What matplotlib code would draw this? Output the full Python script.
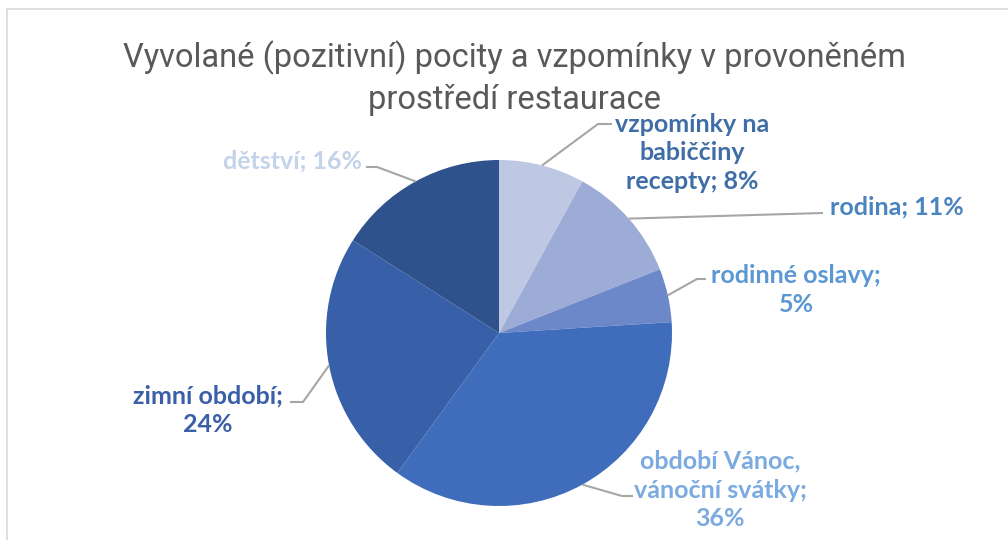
import numpy as np
import matplotlib
matplotlib.use("Agg")
import matplotlib.pyplot as plt

# Data
labels = ["vzpomínky na\nbabiččiny\nrecepty", "rodina", "rodinné oslavy;\n", "období Vánoc,\nvánoční svátky;\n",
          "zimní období;\n", "dětství"]
values = [8, 11, 5, 36, 24, 16]
wedge_colors = ["#BFC8E2", "#9DACD7", "#6D88C9", "#3F6DBB", "#3860A8", "#2F528C"]
label_colors = ["#3F6EA6", "#4A84BE", "#5B97D2", "#7AAADF", "#3A5FA8", "#C3D3EA"]
title = "Vyvolané (pozitivní) pocity a vzpomínky v provoněném\nprostředí restaurace"

W, H = 1008, 540
fig = plt.figure(figsize=(W / 100, H / 100), dpi=100)
ax = fig.add_axes([0, 0, 1, 1])

cx, cy, r = 499, H - 333, 173
wedges, _ = ax.pie(values, colors=wedge_colors, startangle=90, counterclock=False,
                   center=(cx, cy), radius=r, frame=True)
ax.set_xlim(0, W)
ax.set_ylim(0, H)
ax.axis("off")

# frame lines (top / left)
ax.plot([7, W], [H - 9, H - 9], color="#D9D9D9", lw=1.2)
ax.plot([7, 7], [0, H - 9], color="#D9D9D9", lw=1.2)

# label layout: text anchor, elbow point, end of horizontal, alignment (pixel coords from top)
layout = [
    ((692, 153), (598, 124), (612, 124), "center"),
    ((830, 207), (823, 213), (823, 213), "left"),
    ((796, 290), (697, 279), (706, 279), "center"),
    ((720, 490), (622, 496), (633, 496), "center"),
    ((208, 410), (303, 402), (290, 402), "center"),
    ((362, 161), (377, 167), (366, 167), "right"),
]

cum = np.cumsum(values)
for i, (lab, v) in enumerate(zip(labels, values)):
    mid = np.deg2rad(90 - 360 * (cum[i] - v / 2) / sum(values))
    ex, ey = cx + r * np.cos(mid), cy + r * np.sin(mid)
    (tx, ty), (bx, by), (hx, hy), ha = layout[i]
    ax.plot([ex, bx, hx], [ey, H - by, H - hy], color="#A6A6A6", lw=1.5,
            solid_capstyle="butt", zorder=1)
    sep = "" if lab.endswith("\n") else "; "
    txt = f"{lab}{sep}{v}%"
    ax.text(tx, H - ty, txt, ha=ha, va="center", multialignment="center",
            fontsize=18, fontweight="bold", family=["Lato", "DejaVu Sans"],
            color=label_colors[i], linespacing=1.3)

ax.text(514, H - 78, title, ha="center", va="center", fontsize=23.5,
        family=["Roboto", "DejaVu Sans"], color="#595959",
        linespacing=1.35)

fig.savefig("out.png", dpi=100)
